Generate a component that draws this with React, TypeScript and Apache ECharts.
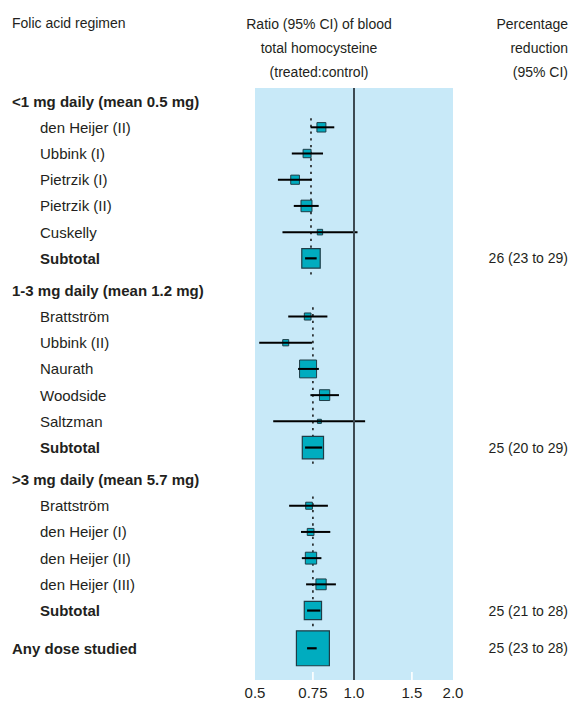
import React, { useEffect, useRef } from "react";
import * as echarts from "echarts";

// ---- data ----
const groupNames = ["<1 mg daily (mean 0.5 mg)", "1-3 mg daily (mean 1.2 mg)", ">3 mg daily (mean 5.7 mg)"];
const studyGroup = [0, 0, 0, 0, 0, 1, 1, 1, 1, 1, 2, 2, 2, 2];
const studyNames = [
  "den Heijer (II)", "Ubbink (I)", "Pietrzik (I)", "Pietrzik (II)", "Cuskelly",
  "Brattström", "Ubbink (II)", "Naurath", "Woodside", "Saltzman",
  "Brattström", "den Heijer (I)", "den Heijer (II)", "den Heijer (III)",
];
const studyRatio = [0.796, 0.72, 0.662, 0.717, 0.788, 0.723, 0.62, 0.725, 0.814, 0.785, 0.73, 0.738, 0.74, 0.794];
const studyLow = [0.738, 0.647, 0.587, 0.656, 0.606, 0.631, 0.515, 0.676, 0.737, 0.568, 0.635, 0.69, 0.694, 0.715];
const studyHigh = [0.871, 0.805, 0.744, 0.781, 1.025, 0.83, 0.745, 0.782, 0.9, 1.081, 0.833, 0.847, 0.796, 0.881];
const studyWeight = [6.8, 5.4, 6.4, 10.2, 2.4, 3.8, 3.0, 24.4, 8.9, 1.3, 3.8, 3.8, 10.8, 8.9];

// percentage reduction (95% CI) for subtotals and overall
const subtotalReduction = [26, 25, 25];
const subtotalRedLow = [23, 20, 21];
const subtotalRedHigh = [29, 29, 28];
const overallReduction = 25;
const overallRedLow = 23;
const overallRedHigh = 28;
const overallLabel = "Any dose studied";

const tickValues = [0.5, 0.75, 1, 1.5, 2];
const tickLabels = ["0.5", "0.75", "1.0", "1.5", "2.0"];
const tickMarkValues = [0.75, 1.5];

// ---- style ----
const FONT = "'Liberation Sans', Arial, sans-serif";
const TEXT = "#231f20";
const BOX_FILL = "#00acbf";
const BOX_STROKE = "#1e3d47";
const BOX_SCALE = 3.44;
const SUM_SCALE = 3.3;

export default function App() {
  const ref = useRef<HTMLDivElement>(null);

  useEffect(() => {
    if (!ref.current) return;
    const chart = echarts.init(ref.current, null, { renderer: "svg" });

    type Row = { y: number; kind: string; text: string; right?: string };
    const rows: Row[] = [];
    const studyRows: any[] = [];
    const sumRows: any[] = [];
    const dotRows: any[] = [];
    let y = 0;
    for (let g = 0; g < groupNames.length; g++) {
      if (g > 0) y += 1.22;
      rows.push({ y, kind: "head", text: groupNames[g] });
      let first = -1;
      let wsum = 0;
      for (let i = 0; i < studyNames.length; i++) {
        if (studyGroup[i] !== g) continue;
        y += 1;
        if (first < 0) first = y;
        rows.push({ y, kind: "study", text: studyNames[i] });
        studyRows.push([studyRatio[i], y, studyLow[i], studyHigh[i], BOX_SCALE * Math.sqrt(studyWeight[i])]);
        wsum += studyWeight[i];
      }
      y += 1;
      const r = 1 - subtotalReduction[g] / 100;
      rows.push({
        y, kind: "sub", text: "Subtotal",
        right: `${subtotalReduction[g]} (${subtotalRedLow[g]} to ${subtotalRedHigh[g]})`,
      });
      sumRows.push([r, y, 1 - subtotalRedHigh[g] / 100, 1 - subtotalRedLow[g] / 100, SUM_SCALE * Math.sqrt(wsum)]);
      dotRows.push([r, first - 0.35, y + 0.65]);
    }
    y += 1.44;
    const totalW = studyWeight.reduce((a, b) => a + b, 0);
    rows.push({
      y, kind: "overall", text: overallLabel,
      right: `${overallReduction} (${overallRedLow} to ${overallRedHigh})`,
    });
    sumRows.push([1 - overallReduction / 100, y, 1 - overallRedHigh / 100, 1 - overallRedLow / 100, SUM_SCALE * Math.sqrt(totalW)]);

    const labelData = rows.map((r) => [1, r.y, r.kind, r.text, r.right || ""]);
    const Y_MAX = 22.09;

    const option: any = {
      animation: false,
      backgroundColor: "#fff",
      textStyle: { fontFamily: FONT },
      grid: {
        left: 255, top: 88, width: 198, height: 592,
        show: true, backgroundColor: "#c8e9f8", borderWidth: 0,
      },
      xAxis: {
        type: "log", logBase: 10, min: 0.5, max: 2,
        position: "bottom",
        axisLine: { show: false, onZero: false },
        splitLine: { show: false },
        axisTick: { show: false },
        axisLabel: {
          customValues: tickValues,
          margin: 5,
          fontSize: 15, color: TEXT, fontFamily: FONT,
          formatter: (v: number) => {
            let best = 0;
            for (let i = 0; i < tickValues.length; i++) if (Math.abs(tickValues[i] - v) < Math.abs(tickValues[best] - v)) best = i;
            return tickLabels[best];
          },
        },
      },
      yAxis: { type: "value", inverse: true, min: -0.5, max: Y_MAX, show: false },
      graphic: [
        { type: "text", x: 12, y: 23, style: { text: "Folic acid regimen", font: `14px ${FONT}`, fill: TEXT, align: "left", verticalAlign: "middle" } },
        { type: "text", x: 319, y: 24, style: { text: "Ratio (95% CI) of blood", font: `14px ${FONT}`, fill: TEXT, align: "center", verticalAlign: "middle" } },
        { type: "text", x: 319, y: 48, style: { text: "total homocysteine", font: `14px ${FONT}`, fill: TEXT, align: "center", verticalAlign: "middle" } },
        { type: "text", x: 319, y: 72, style: { text: "(treated:control)", font: `14px ${FONT}`, fill: TEXT, align: "center", verticalAlign: "middle" } },
        { type: "text", x: 568, y: 24, style: { text: "Percentage", font: `14px ${FONT}`, fill: TEXT, align: "right", verticalAlign: "middle" } },
        { type: "text", x: 568, y: 48, style: { text: "reduction", font: `14px ${FONT}`, fill: TEXT, align: "right", verticalAlign: "middle" } },
        { type: "text", x: 568, y: 72, style: { text: "(95% CI)", font: `14px ${FONT}`, fill: TEXT, align: "right", verticalAlign: "middle" } },
      ],
      series: [
        {
          type: "line",
          data: [],
          markLine: {
            silent: true, symbol: "none", label: { show: false },
            lineStyle: { color: "#3d4a52", width: 2, type: "solid" },
            data: [{ xAxis: 1 }],
          },
        },
        {
          type: "custom",
          name: "ticks",
          data: tickMarkValues.map((v) => [v, Y_MAX]),
          z: 2,
          renderItem: (params: any, api: any) => {
            const p = api.coord([api.value(0), api.value(1)]);
            return {
              type: "line",
              shape: { x1: p[0], y1: p[1], x2: p[0], y2: p[1] - 8 },
              style: { stroke: "#ffffff", lineWidth: 1.6 },
            };
          },
        },
        {
          type: "custom",
          name: "dotted",
          data: dotRows,
          renderItem: (params: any, api: any) => {
            const a = api.coord([api.value(0), api.value(1)]);
            const b = api.coord([api.value(0), api.value(2)]);
            return {
              type: "line",
              shape: { x1: a[0], y1: a[1], x2: b[0], y2: b[1] },
              style: { stroke: "#111", lineWidth: 1.5, lineDash: [2.3, 4.4] },
            };
          },
        },
        {
          type: "custom",
          name: "studies",
          data: studyRows,
          z: 3,
          renderItem: (params: any, api: any) => {
            const c = api.coord([api.value(0), api.value(1)]);
            const lo = api.coord([api.value(2), api.value(1)]);
            const hi = api.coord([api.value(3), api.value(1)]);
            const s = api.value(4);
            const h = s * 1.05;
            return {
              type: "group",
              children: [
                { type: "rect", shape: { x: c[0] - s / 2, y: c[1] - h / 2, width: s, height: h }, style: { fill: BOX_FILL, stroke: BOX_STROKE, lineWidth: 1 } },
                { type: "line", shape: { x1: lo[0], y1: lo[1], x2: hi[0], y2: hi[1] }, style: { stroke: "#000", lineWidth: 2 } },
              ],
            };
          },
        },
        {
          type: "custom",
          name: "summaries",
          data: sumRows,
          z: 3,
          renderItem: (params: any, api: any) => {
            const c = api.coord([api.value(0), api.value(1)]);
            const lo = api.coord([api.value(2), api.value(1)]);
            const hi = api.coord([api.value(3), api.value(1)]);
            const s = api.value(4);
            const h = s * 1.06;
            return {
              type: "group",
              children: [
                { type: "rect", shape: { x: c[0] - s / 2, y: c[1] - h / 2, width: s, height: h }, style: { fill: BOX_FILL, stroke: BOX_STROKE, lineWidth: 1.2 } },
                { type: "line", shape: { x1: lo[0], y1: lo[1], x2: hi[0], y2: hi[1] }, style: { stroke: "#000", lineWidth: 2.2 } },
              ],
            };
          },
        },
        {
          type: "custom",
          name: "labels",
          data: labelData,
          z: 5,
          renderItem: (params: any, api: any) => {
            const d = labelData[params.dataIndex];
            const yy = api.coord([1, d[1]])[1];
            const kind = d[2];
            const bold = kind !== "study";
            const x = kind === "study" || kind === "sub" ? 40 : 12;
            const children: any[] = [
              {
                type: "text", x, y: yy,
                style: { text: d[3], fill: TEXT, font: `${bold ? "bold " : ""}15px ${FONT}`, align: "left", verticalAlign: "middle" },
              },
            ];
            if (d[4]) {
              children.push({
                type: "text", x: 568, y: yy,
                style: { text: d[4], fill: TEXT, font: `14px ${FONT}`, align: "right", verticalAlign: "middle" },
              });
            }
            return { type: "group", children };
          },
        },
      ],
    };
    chart.setOption(option);
    return () => chart.dispose();
  }, []);

  return <div ref={ref} style={{ position: "fixed", left: 0, top: 0, width: 572, height: 701 }} />;
}
